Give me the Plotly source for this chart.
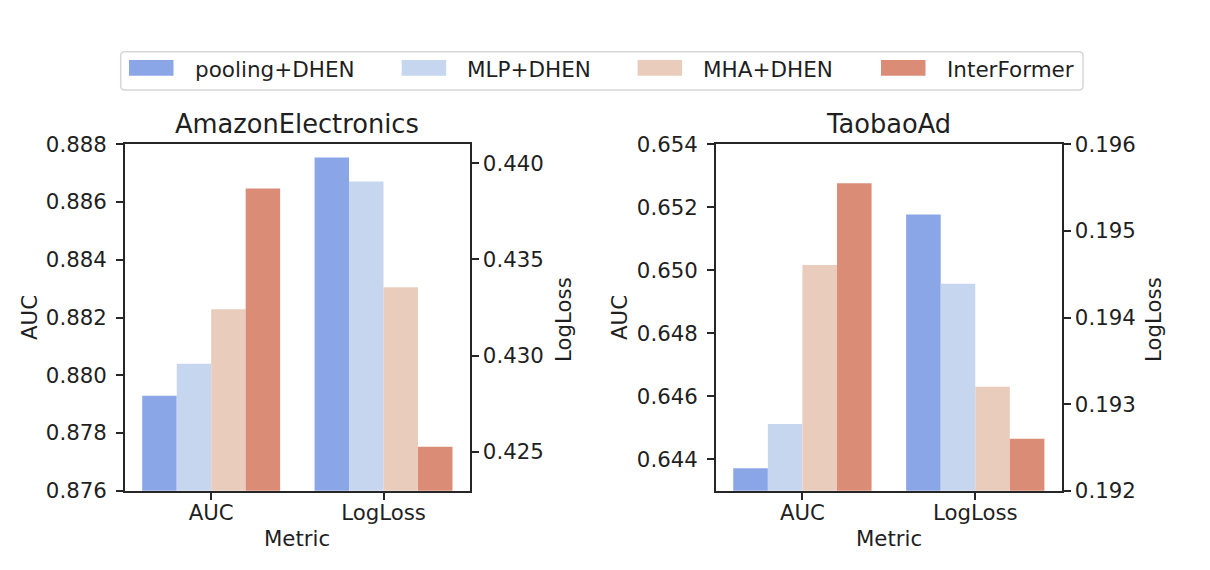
import plotly.graph_objects as go

# ---------------- data ----------------
models = ["pooling+DHEN", "MLP+DHEN", "MHA+DHEN", "InterFormer"]
metrics = ["AUC", "LogLoss"]
datasets = ["AmazonElectronics", "TaobaoAd"]

amazon_auc = [0.87929, 0.88040, 0.88229, 0.88647]
amazon_logloss = [0.44030, 0.43905, 0.43355, 0.42526]
taobao_auc = [0.64371, 0.64512, 0.65017, 0.65276]
taobao_logloss = [0.19519, 0.19439, 0.19320, 0.19260]

# ---------------- style ----------------
colors = ["#8aa6e7", "#c7d6ef", "#eaccbd", "#db8c76"]
FONT = "DejaVu Sans"
TXT = "#1f1f1f"
AX = "#262626"
W, H = 1210, 570
TICK_SIZE = 21.3
TITLE_SIZE = 25.7

def px_x(p):
    return p / W

def px_y(p):
    return 1 - p / H

ydom = [px_y(490.7), px_y(144.3)]
panels = [
    dict(name=datasets[0], auc=amazon_auc, ll=amazon_logloss,
         xdom=[px_x(125), px_x(469.7)],
         yrange=[0.876, 0.888], ytick0=0.876, ydtick=0.002,
         y2range=[0.42297, 0.44099], y2tick0=0.425, y2dtick=0.005),
    dict(name=datasets[1], auc=taobao_auc, ll=taobao_logloss,
         xdom=[px_x(716), px_x(1061.7)],
         yrange=[0.643, 0.654], ytick0=0.644, ydtick=0.002,
         y2range=[0.192, 0.196], y2tick0=0.192, y2dtick=0.001),
]

fig = go.Figure()
bw = 0.8 / len(models)

for pi, p in enumerate(panels):
    xa = "x" if pi == 0 else "x2"
    ya = "y" if pi == 0 else "y3"
    ya2 = "y2" if pi == 0 else "y4"
    for i, m in enumerate(models):
        off = -0.4 + i * bw
        fig.add_trace(go.Bar(x=[metrics[0]], y=[p["auc"][i]], name=m,
                             xaxis=xa, yaxis=ya, width=bw, offset=off,
                             marker=dict(color=colors[i], line=dict(width=0)),
                             showlegend=False))
        fig.add_trace(go.Bar(x=[metrics[1]], y=[p["ll"][i]], name=m,
                             xaxis=xa, yaxis=ya2, width=bw, offset=off,
                             marker=dict(color=colors[i], line=dict(width=0)),
                             showlegend=False))

tickfont = dict(family=FONT, size=TICK_SIZE, color=TXT)
common = dict(showline=True, linecolor=AX, linewidth=1.8, ticks="outside",
              ticklen=7, tickwidth=1.8, tickcolor=AX, tickfont=tickfont,
              showgrid=False, zeroline=False, automargin=False)

layout = dict(width=W, height=H, margin=dict(l=0, r=0, t=0, b=0, autoexpand=False),
              paper_bgcolor="white", plot_bgcolor="white",
              barmode="overlay", font=dict(family=FONT, color=TXT))

for pi, p in enumerate(panels):
    xk = "xaxis" if pi == 0 else "xaxis2"
    yk = "yaxis" if pi == 0 else "yaxis3"
    y2k = "yaxis2" if pi == 0 else "yaxis4"
    xname = "x" if pi == 0 else "x2"
    yname = "y" if pi == 0 else "y3"
    layout[xk] = dict(domain=p["xdom"], anchor=yname, type="category",
                      categoryorder="array", categoryarray=metrics,
                      range=[-0.5, 1.5], mirror=True, ticklabelstandoff=-5, **common)
    layout[yk] = dict(domain=ydom, anchor=xname, range=p["yrange"],
                      tick0=p["ytick0"], dtick=p["ydtick"], tickformat=".3f",
                      side="left", ticklabelstandoff=5, **common)
    layout[y2k] = dict(overlaying=yname, anchor=xname, side="right",
                       range=p["y2range"], tick0=p["y2tick0"], dtick=p["y2dtick"],
                       tickformat=".3f", ticklabelstandoff=0, **common)

fig.update_layout(**layout)

ann = []
lab = dict(family=FONT, size=TICK_SIZE, color=TXT)
for pi, p in enumerate(panels):
    x0, x1 = p["xdom"]
    cx = (x0 + x1) / 2
    ann.append(dict(text=p["name"], x=cx, y=px_y(124), xref="paper", yref="paper",
                    xanchor="center", yanchor="middle", showarrow=False,
                    font=dict(family=FONT, size=TITLE_SIZE, color=TXT)))
    ann.append(dict(text="Metric", x=cx, y=px_y(538), xref="paper", yref="paper",
                    xanchor="center", yanchor="middle", showarrow=False, font=lab))
    lx = 29 if pi == 0 else 619
    rx = 563 if pi == 0 else 1153
    ann.append(dict(text="AUC", x=px_x(lx), y=px_y(318), xref="paper", yref="paper",
                    xanchor="center", yanchor="middle", showarrow=False,
                    textangle=-90, font=lab))
    ann.append(dict(text="LogLoss", x=px_x(rx), y=px_y(320), xref="paper", yref="paper",
                    xanchor="center", yanchor="middle", showarrow=False,
                    textangle=-90, font=lab))

leg_left, leg_right, leg_top, leg_bot = 120.7, 1083, 51.7, 90
patch_x = [129, 401.7, 637.6, 881]
patch_w = 44.5
patch_y0, patch_y1 = 60, 75.7
text_gap = 63.7
shapes = []
r = 4
x0, x1, y0, y1 = leg_left, leg_right, leg_top, leg_bot
path = (f"M {px_x(x0 + r)},{px_y(y0)} L {px_x(x1 - r)},{px_y(y0)} "
        f"Q {px_x(x1)},{px_y(y0)} {px_x(x1)},{px_y(y0 + r)} "
        f"L {px_x(x1)},{px_y(y1 - r)} Q {px_x(x1)},{px_y(y1)} {px_x(x1 - r)},{px_y(y1)} "
        f"L {px_x(x0 + r)},{px_y(y1)} Q {px_x(x0)},{px_y(y1)} {px_x(x0)},{px_y(y1 - r)} "
        f"L {px_x(x0)},{px_y(y0 + r)} Q {px_x(x0)},{px_y(y0)} {px_x(x0 + r)},{px_y(y0)} Z")
shapes.append(dict(type="path", path=path, xref="paper", yref="paper",
                   line=dict(color="#d6d6d6", width=1.5), fillcolor="rgba(255,255,255,0.8)"))
for i, m in enumerate(models):
    shapes.append(dict(type="rect", xref="paper", yref="paper",
                       x0=px_x(patch_x[i]), x1=px_x(patch_x[i] + patch_w),
                       y0=px_y(patch_y1), y1=px_y(patch_y0),
                       fillcolor=colors[i], line=dict(width=0)))
    ann.append(dict(text=m, x=px_x(patch_x[i] + text_gap), y=px_y(69), xref="paper",
                    yref="paper", xanchor="left", yanchor="middle", showarrow=False,
                    font=dict(family=FONT, size=21.5, color=TXT)))

fig.update_layout(annotations=ann, shapes=shapes)
fig.write_html("out.html")
